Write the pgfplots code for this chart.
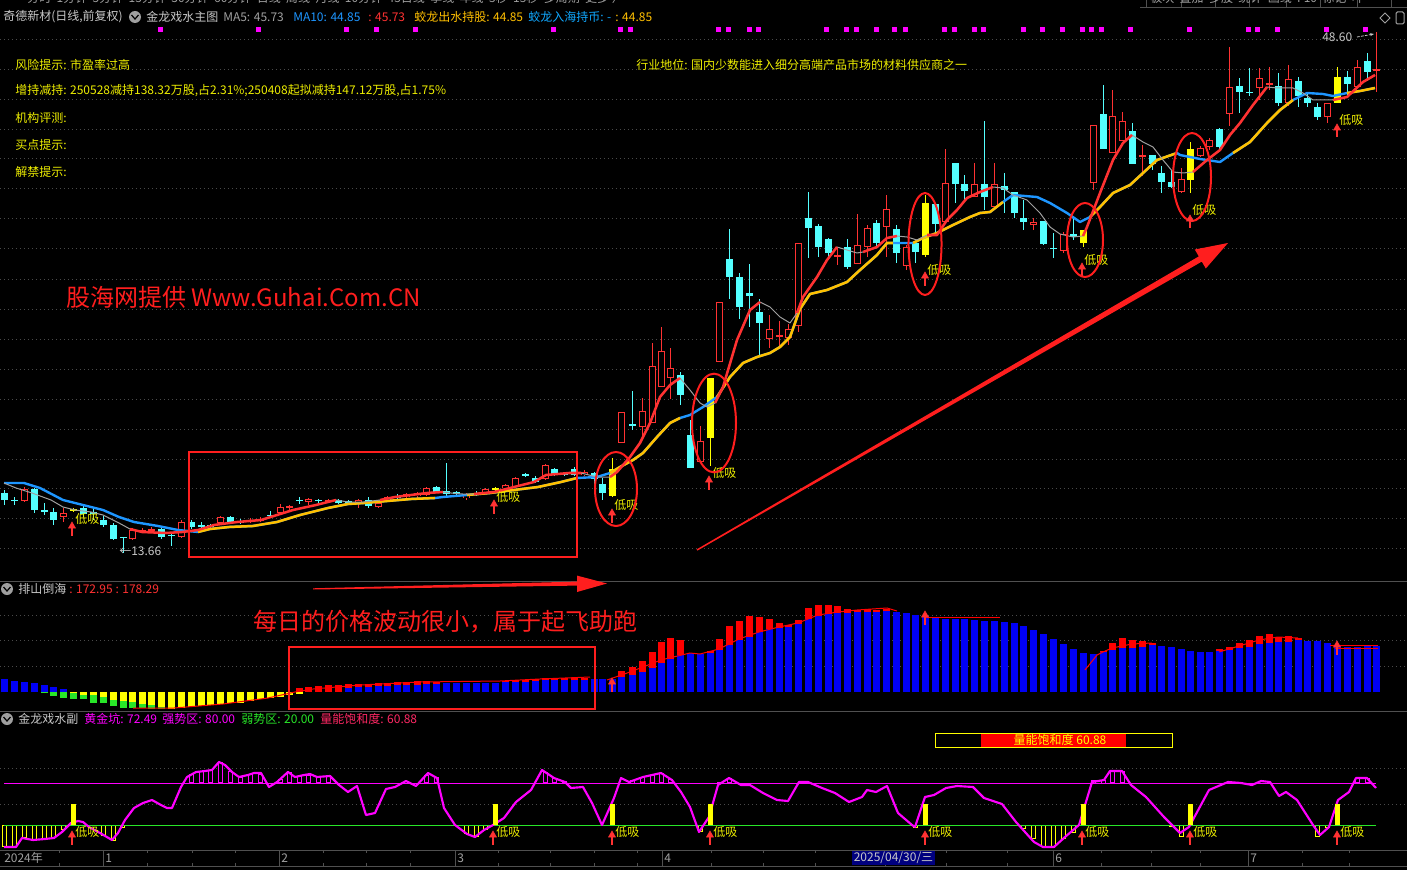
\documentclass[border=0pt]{standalone}
\usepackage{fontspec}
\setmainfont{Noto Sans CJK SC}
\usepackage{pgfplots}
\pgfplotsset{compat=1.18}
\usepackage{pgfplotstable}
\usetikzlibrary{arrows.meta}
\definecolor{cy}{HTML}{54FFFF}
\definecolor{rd}{HTML}{FF3232}
\definecolor{yl}{HTML}{FFFF00}
\definecolor{am}{HTML}{FFC000}
\definecolor{bl}{HTML}{1E96FF}
\definecolor{bl2}{HTML}{10A8FF}
\definecolor{gy}{HTML}{A0A0A0}
\definecolor{mg}{HTML}{FF00FF}
\definecolor{gn}{HTML}{28E628}
\definecolor{bb}{HTML}{0000F5}
\definecolor{txt}{HTML}{C8C8C8}
\definecolor{grd}{HTML}{4A4A4A}
\definecolor{sep}{HTML}{505050}
\definecolor{ann}{HTML}{FF1E1E}
\definecolor{ty}{HTML}{EEEE00}
\definecolor{pk}{HTML}{FF2864}
\definecolor{navy}{HTML}{00007F}
\newcommand{\fs}{\fontsize{9pt}{10pt}\selectfont}
\newcommand{\fb}{\fontsize{18pt}{20pt}\selectfont}
\pgfplotsset{
 eb/.style 2 args={draw=none, mark=none, forget plot,
   /pgfplots/error bars/y dir=both, /pgfplots/error bars/y explicit,
   /pgfplots/error bars/error mark=none,
   /pgfplots/error bars/error bar style={draw=#1, line width=#2, solid}},
}
\tikzset{t/.style={anchor=west, inner sep=0pt, font=\fs}}
% ---------- candles (pixel y of open/high/low/close) ----------
\pgfplotstableread{
x o h l c
4 493 490 505 500
14 500 497 505 501
34 489 488 513 510
44 510 503 515 511
53 512 508 525 520
83 508 505 517 514
93 512 508 520 513
103 520 516 527 525
113 525 523 540 539
123 537 537 553 538
161 529 527 539 537
171 535 532 546 536
191 522 520 529 527
201 525 522 529 526
210 525 524 528 526
230 517 516 524 522
240 521 519 524 522
270 515 511 518 516
299 500 497 504 501
318 500 499 503 501
338 500 499 504 503
348 501 500 504 502
368 500 497 508 506
397 496 494 501 497
436 487 486 493 492
446 491 463 497 494
456 492 491 495 493
476 493 491 496 494
525 474 473 477 475
535 478 476 483 482
554 469 468 476 475
564 473 472 476 474
574 469 467 476 475
594 473 472 484 479
602 484 478 500 493
632 424 391 430 425
680 375 372 405 395
690 435 420 468 468
729 259 229 299 277
739 277 273 319 307
749 293 264 327 296
759 312 299 355 323
808 218 192 258 228
818 226 224 257 247
828 239 238 259 253
847 247 239 269 267
876 223 220 247 243
896 229 225 263 253
915 243 241 263 252
935 204 204 233 224
955 163 163 203 184
964 184 175 200 191
984 184 121 210 197
1004 186 173 213 190
1014 192 192 218 213
1023 218 200 230 222
1043 221 221 245 244
1053 248 233 258 249
1073 234 218 240 237
1103 114 85 149 149
1132 131 123 164 164
1152 155 155 170 164
1161 173 166 193 182
1171 182 170 188 187
1219 129 128 150 147
1239 86 78 113 92
1249 92 68 96 93
1278 86 73 106 103
1298 81 77 107 96
1307 98 92 107 103
1317 107 103 120 117
1347 77 71 97 84
1367 61 53 81 72
}\cdown
\pgfplotstableread{
x o h l c
24 501 487 502 489
63 517 508 522 513
132 539 528 540 530
142 532 528 533 530
151 531 527 532 529
181 537 520 538 522
220 523 516 525 517
250 522 518 523 520
260 521 517 522 519
280 513 504 514 507
289 508 505 512 506
308 502 498 505 499
328 502 499 503 500
358 503 499 508 500
378 507 502 508 503
387 501 496 502 497
406 497 493 498 494
417 496 492 500 493
426 495 487 496 488
466 498 493 500 495
485 493 488 494 489
505 488 484 489 485
515 487 477 488 478
545 479 464 480 465
584 475 470 476 472
621 443 412 443 412
642 427 398 438 411
652 423 343 423 366
661 387 327 387 351
670 378 348 399 368
700 462 426 462 441
719 362 302 362 302
769 339 315 348 329
779 337 321 347 335
788 338 324 345 329
798 326 243 332 243
837 257 247 265 255
857 264 214 264 245
867 247 225 257 228
886 227 195 257 209
906 266 245 270 247
945 222 149 222 183
974 197 163 197 184
994 207 163 207 184
1033 225 218 230 222
1063 251 232 253 234
1093 183 125 190 125
1112 153 90 153 116
1122 141 112 141 121
1142 157 145 176 155
1181 192 168 193 179
1200 156 146 157 148
1209 147 138 150 140
1229 114 47 126 87
1259 88 68 100 78
1269 85 67 90 83
1288 103 65 106 79
1327 117 103 123 103
1357 87 60 87 67
1376 71 32 92 69
}\cup
\pgfplotstableread{
x o h l c
73 511 508 512 509
495 490 487 491 488
612 496 458 497 469
710 438 378 466 378
925 255 195 257 203
1083 243 230 247 230
1190 180 142 193 149
1337 103 67 103 77
}\cyel
% ---------- moving-average lines ----------
\pgfplotstableread{
x y
4 483
16 488
32 493
51 500
63 507
75 510
91 512
103 515
119 523
130 529
142 532
166 533
182 532
198 530
214 525
237 522
261 520
277 515
293 510
316 505
336 500
348 502
364 502
380 500
395 497
411 495
427 493
443 492
451 493
463 494
474 494
494 492
514 487
534 482
546 475
569 473
581 473
597 477
610 477
617 472
630 457
640 443
650 423
660 397
670 385
680 378
690 390
700 403
707 407
715 403
723 387
737 340
750 310
760 302
770 307
780 317
790 323
797 313
803 297
817 277
827 260
837 247
847 250
857 253
863 252
877 247
887 238
897 236
907 237
917 240
927 235
937 235
947 220
957 210
967 198
980 192
993 187
1003 188
1013 195
1027 200
1040 213
1050 227
1060 234
1073 237
1083 236
1087 227
1100 193
1113 160
1123 143
1132 135
1143 142
1153 147
1163 160
1173 172
1183 173
1193 172
1207 160
1220 150
1230 135
1240 123
1253 105
1267 87
1277 88
1293 88
1303 93
1313 100
1333 100
1347 97
1363 82
1375 75
}\lineA
\pgfplotstableread{
x y
4 483
24 483
40 488
63 500
83 505
103 510
119 517
134 522
158 526
178 530
198 532
210 529
229 527
253 526
277 522
300 515
328 508
348 504
364 503
387 501
411 499
435 498
443 497
467 495
490 493
514 490
538 487
561 482
577 478
597 477
610 473
620 467
633 460
643 453
657 437
670 423
680 418
690 415
703 407
717 397
730 377
743 363
757 357
770 353
780 347
790 337
800 309
810 294
827 290
847 282
860 270
877 255
887 243
893 243
913 243
923 238
937 233
953 225
970 217
980 213
990 212
1003 202
1013 195
1037 197
1050 203
1067 213
1080 222
1090 217
1100 207
1113 193
1130 185
1143 173
1157 160
1177 153
1180 155
1200 159
1220 162
1233 153
1250 142
1267 123
1280 110
1293 100
1307 93
1323 94
1333 96
1347 93
1360 91
1375 88
}\lineB
% ---------- bar panel ----------
\pgfplotstableread{
x t
4 679
14 681
24 682
34 683
44 685
53 687
63 689
348 688
358 687
368 687
378 686
387 686
397 685
406 685
417 685
426 684
436 684
446 683
456 683
466 683
476 683
485 683
495 683
505 682
515 682
525 682
535 681
545 680
554 680
564 680
574 680
584 680
594 679
602 679
612 679
621 677
632 675
642 672
652 668
661 663
670 659
680 655
690 653
700 654
710 653
719 650
729 645
739 640
749 637
759 632
769 629
779 628
788 627
798 624
808 619
818 616
828 614
837 613
847 613
857 612
867 612
876 612
886 611
896 612
906 613
915 615
925 616
935 618
945 619
955 619
964 619
974 620
984 621
994 621
1004 622
1014 623
1023 626
1033 630
1043 634
1053 639
1063 644
1073 649
1083 653
1093 654
1103 652
1112 650
1122 648
1132 648
1142 647
1152 645
1161 646
1171 647
1181 649
1190 651
1200 652
1209 652
1219 651
1229 650
1239 648
1249 647
1259 644
1269 643
1278 642
1288 642
1298 640
1307 641
1317 641
1327 643
1337 645
1347 647
1357 647
1367 646
1376 646
}\barblue
\pgfplotstableread{
x b t
299 692 688
308 692 687
318 692 686
328 692 685
338 692 685
348 688 684
358 687 684
368 687 684
378 686 683
387 686 683
397 685 682
406 685 682
417 685 681
426 684 681
436 684 682
505 682 681
515 682 680
525 682 680
535 681 679
545 680 678
554 680 678
564 680 678
574 680 678
584 680 678
621 677 671
632 675 667
642 672 661
652 668 652
661 663 642
670 659 638
680 655 640
710 653 651
719 650 639
729 645 626
739 640 621
749 637 616
759 632 617
769 629 619
779 628 623
788 627 625
798 624 620
808 619 608
818 616 605
828 614 605
837 613 606
847 613 609
857 612 610
867 612 609
876 612 610
886 611 609
1103 652 651
1112 650 643
1122 648 638
1132 648 640
1142 647 641
1152 645 643
1219 651 649
1229 650 647
1239 648 643
1249 647 640
1259 644 636
1269 643 634
1278 642 637
1288 642 636
1298 640 638
}\barred
\pgfplotstableread{
x t b
73 692 693
83 692 695
93 692 695
103 692 697
113 692 700
123 692 701
132 692 702
142 692 704
151 692 705
161 692 707
171 692 709
181 692 708
191 692 707
201 692 706
210 692 705
220 692 704
230 692 703
240 692 703
250 692 701
260 692 699
270 692 698
280 692 697
289 692 695
299 692 694
}\baryel
\pgfplotstableread{
x t b
44 692 693
53 692 696
63 692 698
73 693 699
83 695 699
93 695 703
103 697 703
113 700 706
123 701 708
132 702 708
142 704 708
151 705 709
161 707 709
}\bargrn
% ---------- oscillator ----------
\pgfplotstableread{
x y
4 847
16 847
22 838
33 840
45 839
54 838
62 832
71 823
78 821
83 822
89 827
100 833
112 840
118 833
125 820
134 808
143 803
152 800
161 805
167 808
172 808
181 787
187 777
196 772
205 771
212 770
219 762
225 765
232 772
239 777
248 775
254 773
261 773
269 787
277 782
288 772
295 777
304 775
310 774
317 777
330 776
339 785
348 792
357 786
366 815
375 813
386 789
395 787
406 781
416 786
428 773
437 778
444 808
455 825
467 834
475 837
484 830
493 825
504 818
516 802
531 790
542 770
554 778
565 782
571 788
583 787
592 803
602 825
614 798
621 778
629 782
643 777
661 773
672 780
681 792
690 807
699 832
709 817
718 785
729 778
741 785
750 785
763 793
777 800
788 801
799 782
808 782
822 788
835 793
849 802
862 797
867 790
876 792
887 786
898 813
912 825
915 827
925 797
934 795
946 788
957 786
973 787
984 798
1002 804
1016 822
1034 842
1043 847
1054 847
1065 837
1079 825
1092 782
1104 780
1110 771
1122 771
1131 785
1146 797
1164 817
1180 833
1189 827
1209 790
1228 782
1241 783
1252 785
1261 781
1270 782
1279 796
1286 792
1297 800
1313 825
1320 835
1329 827
1338 800
1349 792
1356 778
1367 778
1376 788
}\osc
\pgfplotstableread{
x b
4 847
14 847
24 838
34 840
44 839
53 838
63 830
103 836
113 841
122 828
466 834
476 837
485 830
700 832
915 828
1023 829
1033 839
1043 847
1053 847
1063 839
1073 833
1171 827
1181 837
1317 837
1327 828
}\oscyel
\pgfplotstableread{
x t
191 774
201 771
210 770
220 762
230 771
240 777
250 774
260 774
280 779
289 772
299 776
308 775
318 777
328 776
426 775
436 777
545 772
554 778
564 781
632 780
642 777
652 775
661 773
670 779
719 782
729 778
1093 780
1103 780
1112 771
1122 771
1357 778
1367 778
}\oscmag
\pgfplotstableread{
x t
72 523
494 501
612 510
709 477
925 273
1082 264
1190 216
1337 125
72 832
493 832
612 832
710 832
925 832
1082 832
1190 832
1337 832
612 679
925 612
1337 642
}\arrows
\begin{document}
\begin{tikzpicture}
\fill[black] (0,0) rectangle (1055.25pt,652.5pt);
\begin{axis}[name=M, at={(0,0)}, anchor=south west, scale only axis,
  width=1055.25pt, height=652.5pt, xmin=0, xmax=1407, ymin=0, ymax=870,
  y dir=reverse, axis lines=none, ticks=none, clip=true]
% grid
\foreach \g in {40,70,100,130,159,189,219,249,279,309,339,369,399,429,459,488,518,548,615,640,666,768,804}{
  \edef\tmp{\noexpand\draw[grd, line width=0.75pt, dash pattern=on 0.75pt off 2.25pt] (0,\g) -- (1407,\g);}\tmp}
% separators
\draw[sep, line width=0.75pt] (0,581) -- (1407,581);
\draw[sep, line width=0.75pt] (0,711) -- (1407,711);
\draw[sep, line width=0.75pt] (0,850) -- (1407,850);
\draw[sep, line width=0.75pt] (0,866) -- (1407,866);
\draw[sep, line width=0.75pt] (1140,8) -- (1407,8);
\foreach \v in {1146,1181,1215,1249,1286,1320,1357,1391}{\edef\tmp{\noexpand\draw[sep, line width=0.75pt] (\v,0) -- (\v,8);}\tmp}
% menu strip (cut)
\node[t, text=gy] at (27,-2) {分时 \ 1分钟 \ 5分钟 \ 15分钟 \ 30分钟 \ 60分钟 \ 日线 \ 周线 \ 月线 \ 10分钟 \ 45日线 \ 季线 \ 年线 \ 5秒 \ 15秒 \ 多周期 \ 更多 〉};
\node[t, text=gy] at (1150,-2) {板块 \ 叠加 \ 多股 \ 统计 \ 画线 \ F10 \ 标记 \ 叶};
% header row
\node[t, text=txt] at (3,17) {奇德新材(日线,前复权)};
\fill[gy] (135,17) circle[radius=4.5pt];
\draw[black, line width=0.9pt] (131.5,15) -- (135,19) -- (138.5,15);
\node[t, text=txt] at (146,17) {金龙戏水主图};
\node[t, text=gy] at (223,17) {MA5: 45.73};
\node[t, text=bl] at (293,17) {MA10: 44.85};
\node[t, text=rd] at (368,17) {: 45.73};
\node[t, text=am] at (414,17) {蛟龙出水持股: 44.85};
\node[t, text=bl2] at (528,17) {蛟龙入海持币: -};
\node[t, text=am] at (615,17) {: 44.85};
\draw[gy, line width=0.75pt] (1385,13) -- (1390,18) -- (1385,23) -- (1380,18) -- cycle;
\draw[gy, line width=0.75pt, rounded corners=1pt] (1396,12) rectangle (1404,24);
% info rows
\node[t, text=ty] at (15,65) {风险提示: 市盈率过高};
\node[t, text=ty] at (15,91) {增持减持: 250528减持138.32万股,占2.31\%;250408起拟减持147.12万股,占1.75\%};
\node[t, text=ty] at (15,118) {机构评测:};
\node[t, text=ty] at (15,145) {买点提示:};
\node[t, text=ty] at (15,172) {解禁提示:};
\node[t, text=ty] at (636,65) {行业地位: 国内少数能进入细分高端产品市场的材料供应商之一};
% magenta top dots
\addplot[only marks, mark=square*, mark size=1.5pt, mark options={draw=mg, fill=mg}, forget plot] coordinates {
(160,29)(258,29)(346,29)(376,29)(415,29)(553,29)(620,29)(630,29)(718,29)(728,29)(749,29)(758,29)(826,29)(846,29)(856,29)(876,29)(894,29)(905,29)(944,29)(954,29)(974,29)(983,29)(1023,29)(1042,29)(1062,29)(1082,29)(1091,29)(1101,29)(1130,29)(1189,29)(1248,29)(1257,29)(1277,29)(1326,29)(1365,29)};
% candles: down (cyan, filled)
\addplot[eb={cy}{0.75pt}] table[x=x, y expr={(\thisrow{h}+\thisrow{l})/2}, y error expr={(\thisrow{l}-\thisrow{h})/2}] {\cdown};
\addplot[eb={cy}{5.25pt}] table[x=x, y expr={(\thisrow{o}+\thisrow{c})/2}, y error expr={max(abs(\thisrow{c}-\thisrow{o})/2,0.6)}] {\cdown};
% up (red, hollow)
\addplot[eb={rd}{0.75pt}] table[x=x, y expr={(\thisrow{h}+\thisrow{l})/2}, y error expr={(\thisrow{l}-\thisrow{h})/2}] {\cup};
\addplot[eb={rd}{5.25pt}] table[x=x, y expr={(\thisrow{o}+\thisrow{c})/2}, y error expr={max(abs(\thisrow{c}-\thisrow{o})/2,0.6)}] {\cup};
\addplot[eb={black}{3.75pt}] table[x=x, y expr={(\thisrow{o}+\thisrow{c})/2}, y error expr={max(abs(\thisrow{c}-\thisrow{o})/2-1,0)}] {\cup};
% yellow signal candles
\addplot[eb={yl}{0.75pt}] table[x=x, y expr={(\thisrow{h}+\thisrow{l})/2}, y error expr={(\thisrow{l}-\thisrow{h})/2}] {\cyel};
\addplot[eb={yl}{5.25pt}] table[x=x, y expr={(\thisrow{o}+\thisrow{c})/2}, y error expr={max(abs(\thisrow{c}-\thisrow{o})/2,0.6)}] {\cyel};
% MA lines
\addplot[bl, line width=1.8pt, mark=none, line join=round, forget plot] table {\lineB};
\foreach \d in {198:435,467:577,610:680,710:893,913:1003,1090:1177,1225:1300,1340:1375}{
  \edef\tmp{\noexpand\addplot[am, line width=1.9pt, mark=none, line join=round, forget plot, restrict x to domain=\d] table {\noexpand\lineB};}\tmp}
\addplot[gy, line width=0.75pt, mark=none, line join=round, forget plot] table {\lineA};
\foreach \d in {130:336,380:443,474:581,610:680,715:760,797:837,860:897,920:993,1083:1132,1190:1267,1330:1375}{
  \edef\tmp{\noexpand\addplot[rd, line width=1.9pt, mark=none, line join=round, forget plot, restrict x to domain=\d] table {\noexpand\lineA};}\tmp}
% price labels
\node[t, text=txt] at (119,551) {←13.66};
\node[t, text=txt] at (1322,37) {48.60};
\draw[txt, line width=0.6pt, dash pattern=on 2pt off 1pt, -{Stealth[length=3pt]}] (1357,37) -- (1374,34);
% bar panel
\addplot[eb={bb}{5.25pt}] table[x=x, y expr={(692+\thisrow{t})/2}, y error expr={(692-\thisrow{t})/2}] {\barblue};
\addplot[eb={red}{5.25pt}] table[x=x, y expr={(\thisrow{b}+\thisrow{t})/2}, y error expr={(\thisrow{b}-\thisrow{t})/2}] {\barred};
\addplot[eb={yl}{5.25pt}] table[x=x, y expr={(\thisrow{b}+\thisrow{t})/2}, y error expr={(\thisrow{b}-\thisrow{t})/2}] {\baryel};
\addplot[eb={gn}{5.25pt}] table[x=x, y expr={(\thisrow{b}+\thisrow{t})/2}, y error expr={(\thisrow{b}-\thisrow{t})/2}] {\bargrn};
\addplot[red, line width=0.75pt, mark=none, forget plot] coordinates {(133,708)(174,708)(223,704)(268,698)(295,692)(313,689)(360,685)(420,682)(500,681)(540,679)(590,677)};
\addplot[red, line width=0.75pt, mark=none, forget plot] coordinates {(607,680)(630,672)(661,660)(690,653)(700,654)(719,649)(739,639)(759,632)(779,627)(798,623)(818,615)(838,612)(857,610)(887,608)(897,611)};
\addplot[red, line width=0.75pt, mark=none, forget plot] coordinates {(925,617)(1000,617)};
\addplot[red, line width=0.75pt, mark=none, forget plot] coordinates {(1085,670)(1097,655)(1103,652)(1112,648)(1132,644)(1152,643)};
\addplot[red, line width=0.75pt, mark=none, forget plot] coordinates {(1219,652)(1239,646)(1259,640)(1278,637)(1298,638)};
\addplot[red, line width=0.75pt, mark=none, forget plot] coordinates {(1330,645)(1378,645)};
\addplot[red, line width=0.75pt, mark=none, forget plot] coordinates {(1335,648)(1378,648)};
% panel headers
\fill[gy] (7,589) circle[radius=4.5pt];
\draw[black, line width=0.9pt] (3.5,587) -- (7,591) -- (10.5,587);
\node[t, text=txt] at (18,589) {排山倒海};
\node[t, text=rd] at (69,589) {: 172.95 : 178.29};
\fill[gy] (7,719) circle[radius=4.5pt];
\draw[black, line width=0.9pt] (3.5,717) -- (7,721) -- (10.5,717);
\node[t, text=txt] at (18,719) {金龙戏水副};
\node[t, text=mg] at (84,719) {黄金坑: 72.49};
\node[t, text=mg] at (162,719) {强势区: 80.00};
\node[t, text=gn] at (241,719) {弱势区: 20.00};
\node[t, text=pk] at (320,719) {量能饱和度: 60.88};
% saturation box
\fill[red] (981,733.5) rectangle (1126,746.5);
\draw[yl, line width=0.75pt] (935,733) rectangle (1172,747);
\node[inner sep=0pt, font=\fs, text=yl] at (1060,740) {量能饱和度 60.88};
% oscillator
\addplot[eb={mg}{3.75pt}] table[x=x, y expr={(783+\thisrow{t})/2}, y error expr={(783-\thisrow{t})/2}] {\oscmag};
\addplot[eb={black}{2.25pt}] table[x=x, y expr={(783+\thisrow{t})/2}, y error expr={max((783-\thisrow{t})/2-1,0)}] {\oscmag};
\addplot[eb={yl}{3.75pt}] table[x=x, y expr={(825+\thisrow{b})/2}, y error expr={(\thisrow{b}-825)/2}] {\oscyel};
\addplot[eb={black}{2.25pt}] table[x=x, y expr={(825+\thisrow{b})/2}, y error expr={max((\thisrow{b}-825)/2-1,0)}] {\oscyel};
\addplot[mg, line width=0.75pt, mark=none, forget plot] coordinates {(4,783)(1376,783)};
\addplot[gn, line width=0.75pt, mark=none, forget plot] coordinates {(4,825)(1376,825)};
\addplot[mg, line width=1.6pt, mark=none, line join=round, forget plot] table {\osc};
\addplot[eb={yl}{3.75pt}] coordinates {(73,814.5) +- (0,10.5) (495,814.5) +- (0,10.5) (612,814.5) +- (0,10.5) (710,814.5) +- (0,10.5) (925,814.5) +- (0,10.5) (1083,814.5) +- (0,10.5) (1190,814.5) +- (0,10.5) (1337,814.5) +- (0,10.5)};
% signal arrows
\addplot[eb={rd}{1.5pt}] table[x=x, y expr={\thisrow{t}+8}, y error expr={4.5}] {\arrows};
\addplot[only marks, mark=triangle*, mark size=3pt, mark options={solid, draw=rd, fill=rd}, forget plot] table[x=x, y expr={\thisrow{t}+3}] {\arrows};
% 低吸 labels
\foreach \p in {{75,519},{496,497},{614,505},{712,473},{927,270},{1084,260},{1192,210},{1339,120},{75,832},{496,832},{615,832},{713,832},{928,832},{1085,832},{1193,832},{1340,832}}{
  \edef\tmp{\noexpand\node[t, text=ty] at (\p) {低吸};}\tmp}
% x axis strip
\foreach \v in {103,279,455,662,1053,1248}{\edef\tmp{\noexpand\draw[sep, line width=0.75pt] (\v,850) -- (\v,866);}\tmp}
\foreach \v in {59,147,192,235,323,366,410,498,550,594,637,711,763,815,885,946,1007,1101,1151,1200,1302,1349}{\edef\tmp{\noexpand\draw[sep, line width=0.75pt] (\v,850) -- (\v,853) (\v,863) -- (\v,866);}\tmp}
\node[t, text=gy] at (4,858) {2024年};
\node[t, text=gy] at (105,858) {1};
\node[t, text=gy] at (281,858) {2};
\node[t, text=gy] at (457,858) {3};
\node[t, text=gy] at (664,858) {4};
\node[t, text=gy] at (1055,858) {6};
\node[t, text=gy] at (1250,858) {7};
\fill[navy] (852,851) rectangle (935,865);
\node[inner sep=0pt, font=\fs, text=txt] at (893.5,858) {2025/04/30/三};
% annotations
\node[t, text=ann, font=\fb] at (66,297) {股海网提供 Www.Guhai.Com.CN};
\node[t, text=ann, font=\fb] at (253,622) {每日的价格波动很小，属于起飞助跑};
\draw[ann, line width=1.5pt] (189,452) rectangle (577,557);
\draw[ann, line width=1.5pt] (289,647) rectangle (595,709);
\draw[ann, line width=1.5pt] (616,489) ellipse [x radius=15.75pt, y radius=27.75pt];
\draw[ann, line width=1.5pt] (714,423) ellipse [x radius=16.5pt, y radius=37pt];
\draw[ann, line width=1.5pt] (925,244) ellipse [x radius=12.4pt, y radius=38.25pt];
\draw[ann, line width=1.5pt] (1085,240) ellipse [x radius=13.5pt, y radius=27.75pt];
\draw[ann, line width=1.5pt] (1192,177) ellipse [x radius=14.25pt, y radius=33pt];
\fill[ann] (697.4,550.6) -- (1201.8,261.6) -- (1205.8,268.5) -- (1228,243) -- (1194.8,249.5) -- (1198.8,256.4) -- (696.6,549.4) -- cycle;
\fill[ann] (313,589.5) -- (577,585.6) -- (577,592) -- (607,583.5) -- (577,575.6) -- (577,581.6) -- (313,588.3) -- cycle;
\end{axis}
\pgfresetboundingbox
\path[use as bounding box] (0,0) rectangle (1055.25pt,652.5pt);
\end{tikzpicture}
\end{document}
